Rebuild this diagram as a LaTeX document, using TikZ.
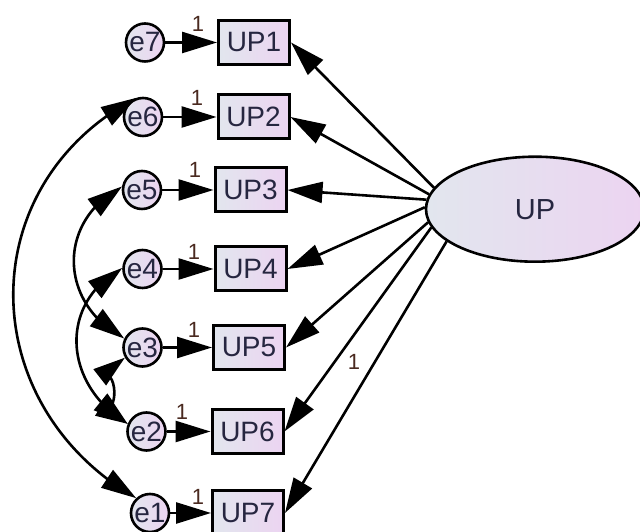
\documentclass[tikz,border=0pt]{standalone}
\usepackage{fontspec}
\setmainfont{Liberation Sans}
\usetikzlibrary{arrows.meta,bending,shapes.geometric}
\definecolor{txt}{HTML}{262640}
\definecolor{lbl}{HTML}{4A2A20}
\definecolor{fillL}{HTML}{E2E6EE}
\definecolor{fillR}{HTML}{ECD4F1}
\begin{document}
\begin{tikzpicture}[x=1pt,y=1pt,
  obs/.style={draw=black, line width=3pt, left color=fillL, right color=fillR,
    minimum width=71pt, minimum height=44pt, inner sep=0pt,
    font=\fontsize{28}{30}\selectfont, text=txt},
  err/.style={circle, draw=black, line width=2.6pt, left color=fillL, right color=fillR,
    minimum size=38pt, inner sep=0pt, font=\fontsize{28}{30}\selectfont, text=txt},
  lat/.style={ellipse, draw=black, line width=2.6pt, left color=fillL, right color=fillR,
    minimum width=218pt, minimum height=105pt, inner sep=0pt,
    font=\fontsize{29}{31}\selectfont, text=txt},
  reg/.style={line width=2.6pt, -{Triangle[length=35pt,width=21pt]}},
  cov/.style={line width=2.6pt, {Triangle[length=35pt,width=21pt]}-{Triangle[length=35pt,width=21pt]}},
  covshort/.style={line width=2.6pt, {Triangle[length=32pt,width=20pt,quick]}-{Triangle[length=32pt,width=20pt,quick]}},
  one/.style={font=\fontsize{22}{24}\selectfont, text=lbl, inner sep=0pt}
]
\clip (0,0) rectangle (640,532);

% latent factor
\node[lat] (UP) at (535,322.8) {UP};

% observed indicators
\node[obs] (UP1) at (254,489.5) {UP1};
\node[obs] (UP2) at (253.5,415) {UP2};
\node[obs] (UP3) at (250.5,342) {UP3};
\node[obs] (UP4) at (250.5,263) {UP4};
\node[obs] (UP5) at (249,184.5) {UP5};
\node[obs] (UP6) at (247.5,100.5) {UP6};
\node[obs] (UP7) at (248,19) {UP7};

% error terms
\node[err] (e7) at (145,489.5) {e7};
\node[err] (e6) at (143,415) {e6};
\node[err] (e5) at (142,342) {e5};
\node[err] (e4) at (142.5,263) {e4};
\node[err] (e3) at (142.5,184.5) {e3};
\node[err] (e2) at (146.5,100.5) {e2};
\node[err] (e1) at (150,19) {e1};

% error -> indicator paths
\draw[reg] (e7) -- (UP1);
\draw[reg] (e6) -- (UP2);
\draw[reg] (e5) -- (UP3);
\draw[reg] (e4) -- (UP4);
\draw[reg] (e3) -- (UP5);
\draw[reg] (e2) -- (UP6);
\draw[reg] (e1) -- (UP7);

% fixed loadings of the error paths
\node[one] (w1) at (198,508.5) {1};
\node[one] (w2) at (197,434) {1};
\node[one] (w3) at (195,362.5) {1};
\node[one] (w4) at (194,280) {1};
\node[one] (w5) at (194,202.5) {1};
\node[one] (w6) at (182,120) {1};
\node[one] (w7) at (198,35) {1};

% factor loadings
\draw[reg] (UP.168) -- (UP1.east);
\draw[reg] (UP.172) -- (UP2.east);
\draw[reg] (UP.175) -- (UP3.east);
\draw[reg] (UP.179) -- (UP4.east);
\draw[reg] (UP.187) -- (UP5.east);
\draw[reg] (UP.190) -- (UP6.east);
\draw[reg] (UP.200) -- (UP7.east);
\node[one] (w8) at (354,170) {1};

% error covariances
\draw[cov] (e6.110) to[out=208,in=150,looseness=1.2] (e1.133);
\draw[cov] (e5.170) to[out=208,in=152,looseness=1.25] (e3.154);
\draw[cov] (e4.177) to[out=209,in=149,looseness=1.22] (e2.158);
\draw[covshort] (e3.210) to[out=218,in=148,looseness=0.35] (e2.158);
\end{tikzpicture}
\end{document}
